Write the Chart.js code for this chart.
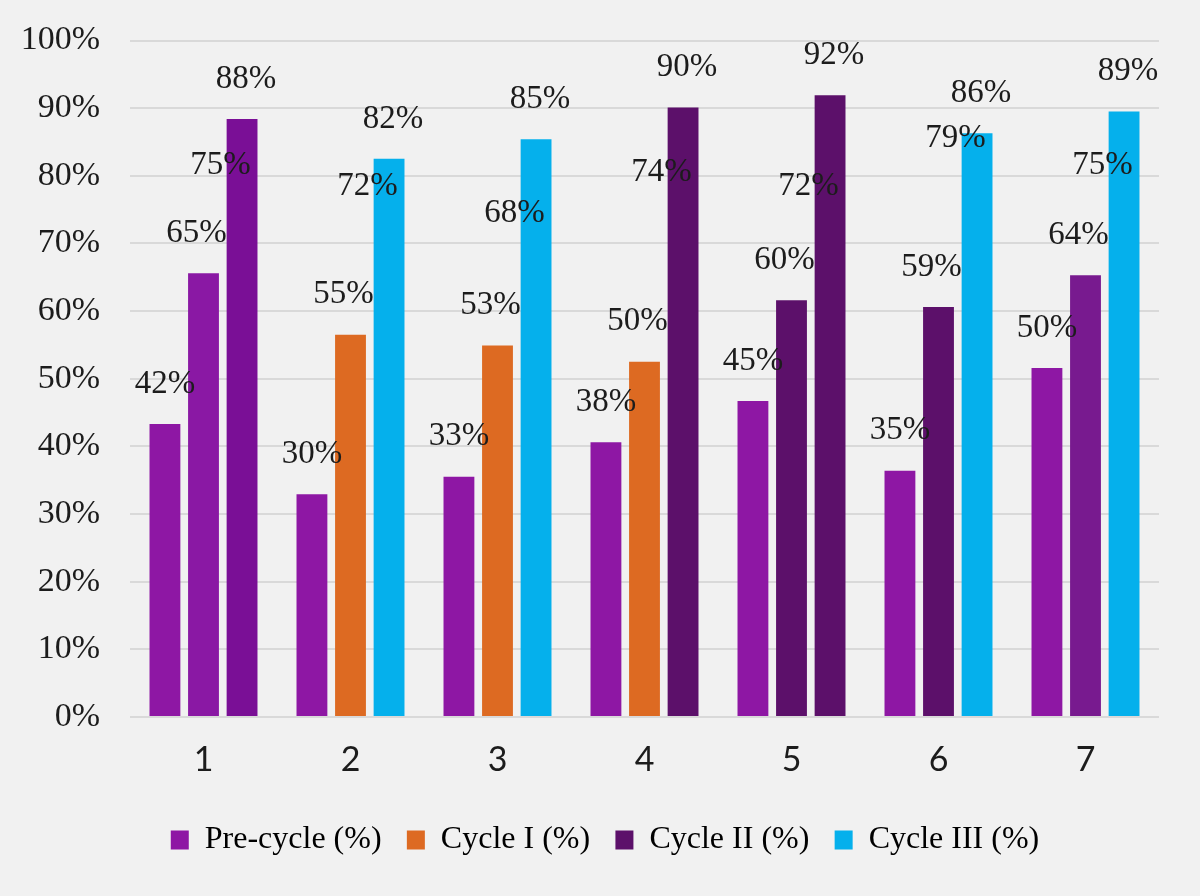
<!DOCTYPE html>
<html lang="en">
<head>
  <meta charset="UTF-8">
  <title>Pre-cycle and cycle results</title>
  <script src="https://cdn.jsdelivr.net/npm/chart.js"></script>
  <style>
    html, body {
      margin: 0;
      padding: 0;
      background: #f1f1f1;
    }
    #wrap {
      width: 1200px;
      height: 896px;
    }
  </style>
</head>
<body>
  <div id="wrap"><canvas id="cycleChart"></canvas></div>

  <script>
    const categories = ['1', '2', '3', '4', '5', '6', '7'];
    const seriesNames = ['Pre-cycle (%)', 'Cycle I (%)', 'Cycle II (%)', 'Cycle III (%)'];
    const yTicks = [0, 10, 20, 30, 40, 50, 60, 70, 80, 90, 100];

    // bar heights as drawn, three bars per group
    const firstBar  = [43.3, 32.9, 35.5, 40.6, 46.7, 36.4, 51.6];
    const secondBar = [65.6, 56.5, 54.9, 52.5, 61.6, 60.6, 65.3];
    const thirdBar  = [88.4, 82.5, 85.4, 90.1, 91.9, 86.3, 89.5];

    // printed value labels
    const preCycle = [42, 30, 33, 38, 45, 35, 50];
    const cycleI   = [65, 55, 53, 50, 60, 59, 64];
    const cycleII  = [75, 72, 68, 74, 72, 79, 75];
    const cycleIII = [88, 82, 85, 90, 92, 86, 89];

    // colours
    const PRE = '#8e17a4', C1 = '#dd6a22', C2 = '#5c106a', C3 = '#05b0ec';
    const seriesColors = [PRE, C1, C2, C3];
    const firstColors  = [PRE, PRE, PRE, PRE, PRE, PRE, PRE];
    const secondColors = ['#8a18a4', C1, C1, C1, C2, C2, '#781a8f'];
    const thirdColors  = ['#7a0f96', C3, C3, C2, C2, C3, C3];

    const serif = "'Liberation Serif', 'Times New Roman', serif";
    const textColor = '#1c1c1c';

    // labels sitting over the bars, plus the floating Cycle II label
    const valueLabels = {
      id: 'valueLabels',
      afterLayout(chart) {
        // legend sits a little right of the canvas centre
        chart.legend.left += 15;
        chart.legend.right += 15;
      },
      afterDatasetsDraw(chart) {
        const ctx = chart.ctx;
        const onBars = [preCycle, cycleI, cycleIII];
        const shift = [0, -7, 4];
        ctx.save();
        ctx.font = '33px ' + serif;
        ctx.fillStyle = textColor;
        ctx.textAlign = 'center';
        ctx.textBaseline = 'middle';
        onBars.forEach((vals, d) => {
          chart.getDatasetMeta(d).data.forEach((bar, i) => {
            ctx.fillText(vals[i] + '%', bar.x + shift[d], bar.y - 40);
          });
        });
        const xs = chart.scales.x, ys = chart.scales.y;
        cycleII.forEach((v, i) => {
          ctx.fillText(v + '%', xs.getPixelForValue(i) + 17, ys.getPixelForValue(v) - 44);
        });
        ctx.restore();
      }
    };

    const ctx = document.getElementById('cycleChart').getContext('2d');
    new Chart(ctx, {
      type: 'bar',
      data: {
        labels: categories,
        datasets: [
          { label: 'bar 1', data: firstBar, backgroundColor: firstColors },
          { label: 'bar 2', data: secondBar, backgroundColor: secondColors },
          { label: 'bar 3', data: thirdBar, backgroundColor: thirdColors }
        ]
      },
      options: {
        responsive: true,
        maintainAspectRatio: false,
        animation: false,
        layout: { padding: { left: 21, right: 41, top: 40.5, bottom: 30 } },
        datasets: {
          bar: { barPercentage: 0.8, categoryPercentage: 0.787, borderWidth: 0 }
        },
        plugins: {
          tooltip: { enabled: false },
          legend: {
            position: 'bottom',
            onClick: null,
            labels: {
              boxWidth: 18,
              boxHeight: 19,
              padding: 25.3,
              color: textColor,
              font: { family: serif, size: 32 },
              generateLabels: () => seriesNames.map((name, k) => ({
                text: name,
                fillStyle: seriesColors[k],
                strokeStyle: seriesColors[k],
                lineWidth: 0,
                hidden: false,
                datasetIndex: k
              }))
            }
          }
        },
        scales: {
          x: {
            grid: { display: false, drawTicks: false },
            border: { display: false },
            ticks: {
              color: textColor,
              padding: 23,
              font: { family: 'Lato, sans-serif', size: 34 }
            },
            afterFit: scale => { scale.height -= 5; }
          },
          y: {
            min: 0,
            max: 100,
            afterBuildTicks: scale => { scale.ticks = yTicks.map(v => ({ value: v })); },
            afterFit: scale => {
              scale.width = 109;
              scale.paddingTop = 0;
              scale.paddingBottom = 0;
            },
            grid: { color: '#d9d9d9', lineWidth: 2, drawTicks: false },
            border: { display: false },
            ticks: {
              color: textColor,
              padding: 30,
              font: { family: serif, size: 34 },
              callback: v => v + '%'
            }
          }
        }
      },
      plugins: [valueLabels]
    });
  </script>
</body>
</html>
